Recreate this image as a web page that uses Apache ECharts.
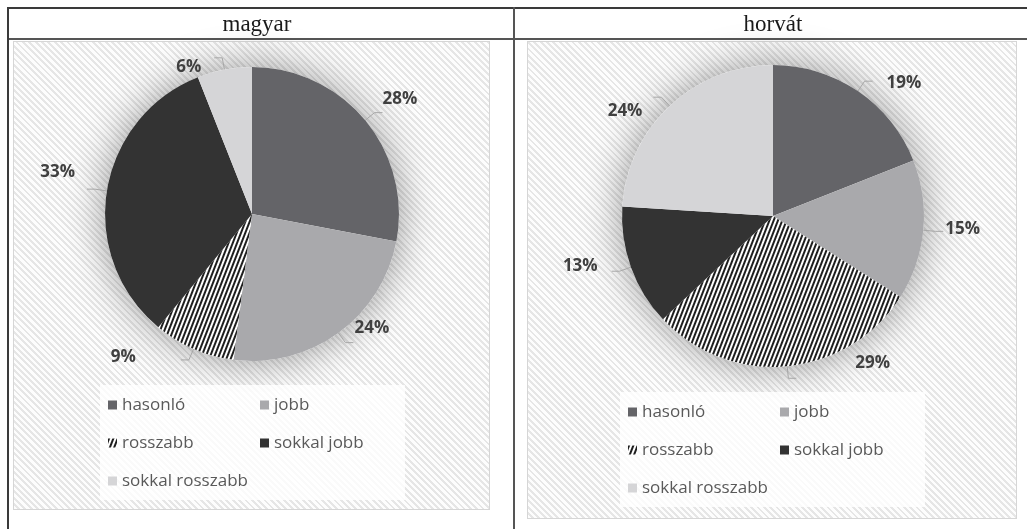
<!DOCTYPE html>
<html>
<head>
<meta charset="utf-8">
<script src="https://cdn.jsdelivr.net/npm/echarts@6/dist/echarts.min.js"></script>
<style>
  html, body { margin: 0; padding: 0; background: #fff; }
  #wrap { position: relative; width: 1027px; height: 529px; overflow: hidden; }
  .line { position: absolute; background: #3a3a3a; }
  .panel {
    position: absolute;
    box-sizing: border-box;
    border: 1px solid #d6d6d6;
    background: repeating-linear-gradient(45deg, #fdfdfd 0 2.5px, #e6e6e6 2.5px 4.5px);
  }
  #chart { position: absolute; left: 0; top: 0; width: 1027px; height: 529px; }
</style>
</head>
<body>
<div id="wrap">
  <div class="line" style="left:7px;top:7px;width:1020px;height:2px"></div>
  <div class="line" style="left:7px;top:38px;width:1020px;height:2px;background:#555"></div>
  <div class="line" style="left:7px;top:7px;width:2px;height:522px"></div>
  <div class="line" style="left:513px;top:7px;width:2px;height:522px;background:#555"></div>
  <div class="panel" style="left:13px;top:41px;width:477px;height:469px"></div>
  <div class="panel" style="left:527px;top:41px;width:490px;height:478px"></div>
  <div id="chart"></div>
</div>
<script>
const categories = ['hasonló', 'jobb', 'rosszabb', 'sokkal jobb', 'sokkal rosszabb']
const magyarValues = [28, 24, 9, 33, 6]
const horvatValues = [19, 15, 29, 13, 24]
const panelTitles = ['magyar', 'horvát']
const sliceColors = ['#646468', '#a9a9ac', '#ffffff', '#333333', '#d5d5d7']

// nudges so the labels sit where Excel put them
const magyarLabelShift = [[-5, -13], [-4, -14], [-40, -3], [-7, -17], [-8, 9]]
const horvatLabelShift = [[9, 2], [-3, -2], [54, -15], [-9, -5], [-6, 14]]

const hatch = {
  symbol: 'rect',
  symbolSize: 1,
  color: '#1e1e1e',
  dashArrayX: [1, 0],
  dashArrayY: [1.6, 2],
  rotation: -1.2
}

const toData = (values) => values.map((v, i) => ({
  name: categories[i],
  value: v,
  itemStyle: i === 2
    ? { color: '#ffffff', decal: hatch }
    : { color: sliceColors[i] }
}))

const backdrop = (center, radius) => ({
  type: 'pie',
  center,
  radius,
  silent: true,
  z: 1,
  label: { show: false },
  labelLine: { show: false },
  itemStyle: {
    color: '#ffffff',
    shadowBlur: 40,
    shadowColor: 'rgba(0,0,0,0.4)'
  },
  data: [{ name: '_bg', value: 1 }]
})

const pieSeries = (center, radius, values, shift) => ({
  type: 'pie',
  center,
  radius,
  z: 2,
  startAngle: 90,
  clockwise: true,
  emphasis: { disabled: true },
  label: {
    show: true,
    position: 'outside',
    formatter: '{c}%',
    fontFamily: 'Open Sans',
    fontWeight: 'bold',
    fontSize: 17,
    color: '#404040'
  },
  labelLine: {
    show: true,
    length: 12,
    length2: 8,
    lineStyle: { color: '#a6a6a6', width: 1 }
  },
  labelLayout: (p) => ({ dx: shift[p.dataIndex][0], dy: shift[p.dataIndex][1] }),
  data: toData(values)
})

const legendBox = (left, top) => ({
  left,
  top,
  width: 300,
  orient: 'horizontal',
  data: categories,
  icon: 'rect',
  itemWidth: 9,
  itemHeight: 9,
  itemGap: 20,
  padding: [11, 13, 10, 8],
  backgroundColor: 'rgba(255,255,255,0.8)',
  selectedMode: false,
  formatter: (name) => '{a|' + name + '}',
  textStyle: {
    width: 118,
    fontFamily: 'Open Sans',
    fontSize: 17,
    color: '#595959',
    rich: {
      a: {
        width: 118,
        height: 18,
        lineHeight: 18,
        fontFamily: 'Open Sans',
        fontSize: 17,
        color: '#595959'
      }
    }
  }
})

const chart = echarts.init(document.getElementById('chart'))
chart.setOption({
  animation: false,
  backgroundColor: 'transparent',
  graphic: [
    {
      type: 'text', x: 257, y: 25,
      style: {
        text: panelTitles[0], font: '23px "Liberation Serif"', fill: '#1a1a1a',
        textAlign: 'center', textVerticalAlign: 'middle'
      }
    },
    {
      type: 'text', x: 773, y: 25,
      style: {
        text: panelTitles[1], font: '23px "Liberation Serif"', fill: '#1a1a1a',
        textAlign: 'center', textVerticalAlign: 'middle'
      }
    }
  ],
  legend: [legendBox(100, 385), legendBox(620, 392)],
  series: [
    backdrop([252, 214], 147),
    backdrop([773, 216], 151),
    pieSeries([252, 214], 147, magyarValues, magyarLabelShift),
    pieSeries([773, 216], 151, horvatValues, horvatLabelShift)
  ]
})
</script>
</body>
</html>
